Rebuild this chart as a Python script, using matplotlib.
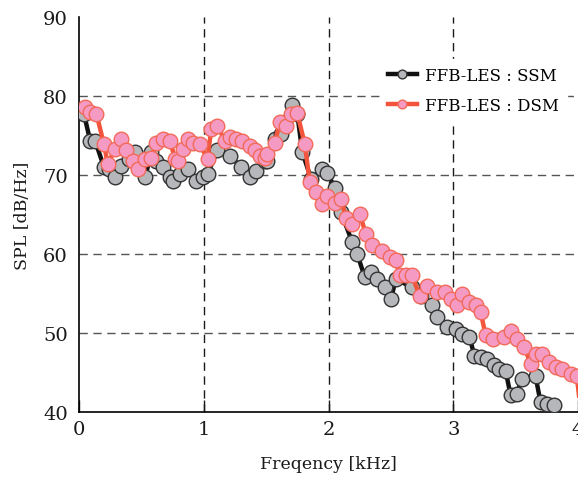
import matplotlib
matplotlib.use("Agg")
import matplotlib.pyplot as plt

# SSM (grey) series, frequency in kHz, SPL in dB/Hz
ssm_x = [0.04, 0.09, 0.13, 0.20, 0.24, 0.29, 0.34, 0.40, 0.45, 0.53, 0.58, 0.62,
         0.67, 0.73, 0.75, 0.81, 0.87, 0.94, 0.99, 1.03, 1.11, 1.21, 1.30, 1.37,
         1.42, 1.49, 1.51, 1.57, 1.62, 1.65, 1.71, 1.75, 1.79, 1.86, 1.95, 1.99,
         2.05, 2.10, 2.19, 2.23, 2.29, 2.34, 2.39, 2.45, 2.50, 2.54, 2.67, 2.74,
         2.83, 2.87, 2.95, 3.02, 3.07, 3.13, 3.17, 3.22, 3.27, 3.33, 3.37, 3.42,
         3.46, 3.51, 3.55, 3.66, 3.70, 3.75, 3.81, 3.87]
ssm_y = [77.7, 74.3, 74.3, 71.0, 70.8, 69.7, 71.1, 72.0, 72.9, 69.7, 72.9, 71.8,
         71.0, 69.7, 69.3, 70.1, 70.8, 69.3, 69.7, 70.1, 73.1, 72.4, 71.0, 69.7,
         70.5, 71.8, 71.8, 74.6, 75.2, 76.7, 78.8, 77.7, 72.9, 69.5, 70.8, 70.3,
         68.4, 65.3, 61.5, 60.0, 57.1, 57.7, 56.8, 55.8, 54.3, 56.8, 55.8, 54.7,
         53.5, 52.0, 50.7, 50.5, 49.9, 49.5, 47.1, 46.9, 46.7, 45.9, 45.4, 45.2,
         42.1, 42.3, 44.2, 44.5, 41.2, 41.0, 40.9, 38.0]

# DSM (pink) series
dsm_x = [0.05, 0.09, 0.14, 0.20, 0.23, 0.29, 0.34, 0.38, 0.43, 0.47, 0.53, 0.58,
         0.62, 0.67, 0.73, 0.77, 0.79, 0.83, 0.87, 0.91, 0.97, 1.03, 1.06, 1.11,
         1.17, 1.21, 1.26, 1.31, 1.37, 1.41, 1.45, 1.49, 1.51, 1.57, 1.61, 1.66,
         1.70, 1.75, 1.81, 1.85, 1.90, 1.95, 1.99, 2.05, 2.10, 2.14, 2.19, 2.25,
         2.30, 2.35, 2.43, 2.49, 2.54, 2.57, 2.62, 2.67, 2.73, 2.79, 2.87, 2.93,
         2.98, 3.03, 3.07, 3.13, 3.18, 3.22, 3.26, 3.32, 3.41, 3.46, 3.51, 3.57,
         3.62, 3.66, 3.71, 3.77, 3.82, 3.87, 3.94, 3.99, 4.03]
dsm_y = [78.6, 78.0, 77.7, 73.9, 71.4, 73.3, 74.6, 73.1, 71.8, 70.8, 72.0, 72.2,
         74.1, 74.5, 74.3, 72.0, 71.8, 73.3, 74.6, 74.1, 73.9, 72.0, 75.8, 76.2,
         74.3, 74.8, 74.6, 74.3, 73.7, 73.1, 72.4, 72.2, 72.7, 74.1, 76.7, 76.2,
         77.7, 77.8, 73.9, 69.1, 67.8, 66.3, 67.4, 66.5, 67.0, 64.6, 63.8, 65.1,
         62.5, 61.1, 60.4, 59.6, 59.2, 57.3, 57.3, 57.3, 54.7, 56.0, 55.2, 55.2,
         54.3, 53.5, 54.9, 53.9, 53.5, 52.6, 49.7, 49.2, 49.5, 50.3, 49.2, 48.2,
         46.1, 47.3, 47.3, 46.3, 45.7, 45.4, 44.8, 44.6, 39.0]

plt.rcParams['font.family'] = ['DejaVu Serif']

fig = plt.figure(figsize=(5.78, 4.85), dpi=100)
ax = fig.add_axes([0.1367, 0.1485, 0.8633, 0.8144])

ax.plot(ssm_x, ssm_y, color="#111111", lw=3.2, marker="o", ms=10.5,
        mfc="#b5b7ba", mec="#333333", mew=1.0, label="FFB-LES : SSM", zorder=3)
ax.plot(dsm_x, dsm_y, color="#f2553c", lw=3.2, marker="o", ms=10.5,
        mfc="#f59ac2", mec="#f26a58", mew=1.0, label="FFB-LES : DSM", zorder=4)

ax.set_xlim(0, 4)
ax.set_ylim(40, 90)
ax.set_xticks([0, 1, 2, 3, 4])
ax.set_yticks([40, 50, 60, 70, 80, 90])
ax.tick_params(direction="in", length=9, width=1, labelsize=14, pad=6, colors="#1a1a1a")
ax.tick_params(axis="y", length=0, pad=8)

for v in [1, 2, 3]:
    ax.axvline(v, color="#1a1a1a", lw=1, ls=(0, (6, 4)), zorder=1)
for v in [50, 60, 70, 80]:
    ax.axhline(v, color="#555555", lw=1, ls=(0, (6, 4)), zorder=1)

ax.spines["top"].set_visible(False)
ax.spines["right"].set_visible(False)
ax.spines["left"].set_linewidth(1.2)
ax.spines["bottom"].set_linewidth(1.2)

ax.set_xlabel("Freqency [kHz]", fontsize=12.5, labelpad=12, color="#1a1a1a")
ax.set_ylabel("SPL [dB/Hz]", fontsize=12.5, labelpad=9, color="#1a1a1a")

leg = ax.legend(loc="upper right", bbox_to_anchor=(0.995, 0.915), fontsize=12,
                frameon=True, fancybox=False, handlelength=1.7, markerscale=0.6,
                handletextpad=0.5, labelspacing=0.75, borderpad=0.5)
leg.get_frame().set_edgecolor("white")
leg.get_frame().set_facecolor("white")
leg.get_frame().set_alpha(1.0)
leg.set_zorder(5)

fig.savefig("out.png", dpi=100)
